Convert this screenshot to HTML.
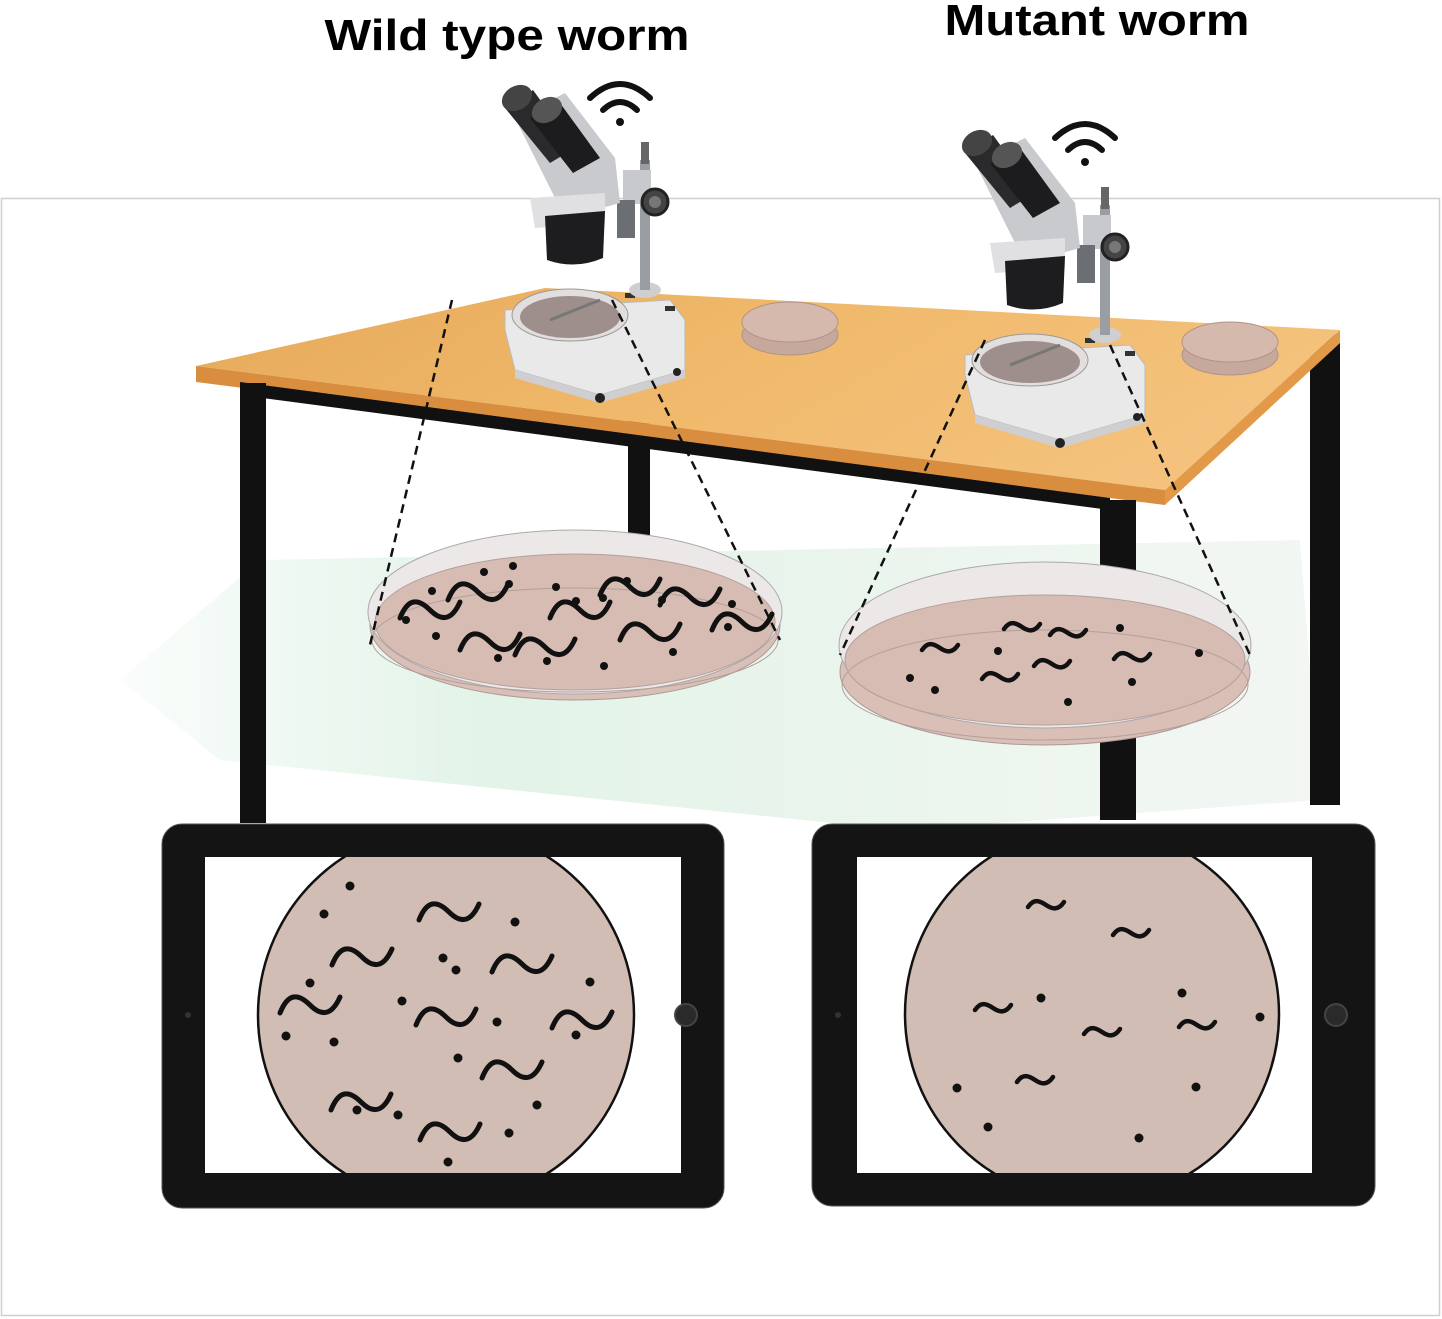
<!DOCTYPE html>
<html><head><meta charset="utf-8"><style>html,body{margin:0;padding:0;background:#fff}svg{display:block}</style></head>
<body>
<svg width="1442" height="1319" viewBox="0 0 1442 1319" xmlns="http://www.w3.org/2000/svg" font-family="Liberation Sans, sans-serif">
<defs>
<linearGradient id="shadow" x1="0" y1="0" x2="1" y2="0">
<stop offset="0" stop-color="#d9efe4" stop-opacity="0.2"/>
<stop offset="0.3" stop-color="#d6eedd"/>
<stop offset="1" stop-color="#eef3ee"/>
</linearGradient>
<linearGradient id="wood" x1="0" y1="0" x2="1" y2="0.3">
<stop offset="0" stop-color="#e6a95a"/>
<stop offset="0.5" stop-color="#f0b86a"/>
<stop offset="1" stop-color="#f4c27c"/>
</linearGradient>
<path id="w" d="M-30,10 C-22,-10 -12,-10 0,2 C12,14 22,12 30,-6" fill="none" stroke="#111" stroke-width="5" stroke-linecap="round"/>
<path id="m" d="M-18,2 C-12,-7 -6,-4 0,0 C6,4 12,6 18,-3" fill="none" stroke="#111" stroke-width="4.5" stroke-linecap="round"/>
<g id="mic">
<path d="M0,40 L165,30 L180,50 L180,100 L95,125 L10,100 L0,60 Z" fill="#e9e9ea" stroke="#bbb"/>
<path d="M10,100 L95,125 L180,100 L180,108 L95,133 L10,108 Z" fill="#cfcfd2"/>
<ellipse cx="65" cy="45" rx="58" ry="26" fill="#e3dede" stroke="#999"/>
<ellipse cx="65" cy="47" rx="50" ry="21" fill="#9e8f8c"/>
<line x1="45" y1="50" x2="95" y2="30" stroke="#777" stroke-width="3"/>
<circle cx="95" cy="128" r="5" fill="#222"/>
<circle cx="172" cy="102" r="4" fill="#222"/>
<rect x="120" y="23" width="10" height="5" fill="#333"/>
<rect x="160" y="36" width="10" height="5" fill="#333"/>
<ellipse cx="140" cy="20" rx="16" ry="8" fill="#cfcfd2"/>
<rect x="135" y="-110" width="10" height="130" fill="#9a9ea3"/>
<rect x="136" y="-128" width="8" height="22" fill="#666"/>
<rect x="118" y="-100" width="28" height="34" fill="#c8c9cc"/>
<rect x="112" y="-70" width="18" height="38" fill="#6b6e72"/>
<circle cx="150" cy="-68" r="13" fill="#444" stroke="#222" stroke-width="3"/>
<circle cx="150" cy="-68" r="6" fill="#777"/>
<g transform="translate(0,38)">
<path d="M10,-190 L60,-215 L110,-150 L115,-105 L60,-90 L35,-140 Z" fill="#c9cacd"/>
<path d="M25,-110 L100,-115 L100,-85 L30,-80 Z" fill="#e0e0e2"/>
<path d="M40,-92 L100,-97 L98,-50 Q70,-38 42,-48 Z" fill="#1d1d1f"/>
<path d="M0,-200 L28,-218 L70,-160 L45,-145 Z" fill="#2a2a2c"/>
<path d="M25,-190 L55,-205 L95,-150 L68,-135 Z" fill="#1c1c1e"/>
<ellipse cx="12" cy="-210" rx="16" ry="12" transform="rotate(-30 12 -210)" fill="#444"/>
<ellipse cx="42" cy="-198" rx="16" ry="12" transform="rotate(-30 42 -198)" fill="#555"/>
</g>
</g>
<g id="wifi" fill="none" stroke="#111" stroke-width="6" stroke-linecap="round">
<path d="M-30,-10 Q0,-38 30,-10"/>
<path d="M-17,2 Q0,-14 17,2"/>
<circle cx="0" cy="14" r="4" fill="#111" stroke="none"/>
</g>
<clipPath id="s1"><rect x="205" y="857" width="476" height="316"/></clipPath>
<clipPath id="s2"><rect x="857" y="857" width="455" height="316"/></clipPath>
</defs>

<rect x="1.5" y="198.5" width="1438" height="1117" fill="none" stroke="#cfcfcf" stroke-width="1.5"/>

<text x="507" y="50" text-anchor="middle" font-weight="bold" font-size="44" textLength="365" lengthAdjust="spacingAndGlyphs" fill="#000">Wild type worm</text>
<text x="1097" y="35" text-anchor="middle" font-weight="bold" font-size="44" textLength="305" lengthAdjust="spacingAndGlyphs" fill="#000">Mutant worm</text>

<path d="M120,680 L260,560 L1300,540 L1320,800 L900,830 L220,760 Z" fill="url(#shadow)" opacity="0.7"/>

<rect x="628" y="395" width="22" height="140" fill="#111"/>
<rect x="1310" y="335" width="30" height="470" fill="#111"/>
<path d="M196,366 L545,288 L1340,330 L1165,490 Z" fill="url(#wood)"/>
<path d="M196,366 L1165,490 L1165,505 L196,382 Z" fill="#d88e3e"/>
<path d="M1165,490 L1340,330 L1340,343 L1165,505 Z" fill="#e39a48"/>
<path d="M240,382 L1110,498 L1110,510 L240,395 Z" fill="#111"/>
<rect x="240" y="383" width="26" height="440" fill="#111"/>
<rect x="1100" y="500" width="36" height="320" fill="#111"/>

<g>
<ellipse cx="790" cy="335" rx="48" ry="20" fill="#c6a89c" stroke="#b09488"/>
<ellipse cx="790" cy="322" rx="48" ry="20" fill="#d6b9ad" stroke="#b09488"/>
<ellipse cx="1230" cy="355" rx="48" ry="20" fill="#c6a89c" stroke="#b09488"/>
<ellipse cx="1230" cy="342" rx="48" ry="20" fill="#d6b9ad" stroke="#b09488"/>
</g>

<use href="#mic" x="505" y="270"/>
<use href="#mic" x="965" y="315"/>
<use href="#wifi" x="620" y="108"/>
<use href="#wifi" x="1085" y="148"/>

<ellipse cx="575" cy="625" rx="205" ry="75" fill="#d9bfb6" stroke="#a99"/>
<ellipse cx="575" cy="612" rx="207" ry="82" fill="#ece8e8" stroke="#aaa"/>
<ellipse cx="575" cy="622" rx="200" ry="68" fill="#d6bcb3" stroke="#b3a09a"/>
<ellipse cx="575" cy="640" rx="203" ry="52" fill="none" stroke="#b3a09a"/>
<g>
<use href="#w" x="430" y="608"/><use href="#w" x="478" y="590"/><use href="#w" x="630" y="585"/>
<use href="#w" x="580" y="608"/><use href="#w" x="690" y="595"/><use href="#w" x="742" y="620"/>
<use href="#w" x="490" y="640"/><use href="#w" x="545" y="645"/><use href="#w" x="650" y="630"/>
</g>
<g fill="#111">
<circle cx="406" cy="620" r="4"/><circle cx="432" cy="591" r="4"/><circle cx="484" cy="572" r="4"/><circle cx="513" cy="566" r="4"/>
<circle cx="509" cy="584" r="4"/><circle cx="556" cy="587" r="4"/><circle cx="576" cy="601" r="4"/><circle cx="603" cy="598" r="4"/>
<circle cx="627" cy="581" r="4"/><circle cx="662" cy="600" r="4"/><circle cx="732" cy="604" r="4"/><circle cx="728" cy="627" r="4"/>
<circle cx="436" cy="636" r="4"/><circle cx="498" cy="658" r="4"/><circle cx="547" cy="661" r="4"/><circle cx="604" cy="666" r="4"/><circle cx="673" cy="652" r="4"/>
</g>
<line x1="452" y1="300" x2="370" y2="645" stroke="#111" stroke-width="2.5" stroke-dasharray="9,6"/>
<line x1="612" y1="300" x2="780" y2="640" stroke="#111" stroke-width="2.5" stroke-dasharray="9,6"/>

<ellipse cx="1045" cy="672" rx="205" ry="73" fill="#d9bfb6" stroke="#a99"/>
<ellipse cx="1045" cy="645" rx="206" ry="83" fill="#ece8e8" stroke="#aaa"/>
<ellipse cx="1045" cy="660" rx="200" ry="65" fill="#d6bcb3" stroke="#b3a09a"/>
<ellipse cx="1045" cy="685" rx="203" ry="55" fill="none" stroke="#b3a09a"/>
<g>
<use href="#m" x="940" y="648"/><use href="#m" x="1022" y="627"/><use href="#m" x="1068" y="633"/>
<use href="#m" x="1000" y="677"/><use href="#m" x="1052" y="664"/><use href="#m" x="1132" y="657"/>
</g>
<g fill="#111">
<circle cx="998" cy="651" r="4"/><circle cx="1120" cy="628" r="4"/><circle cx="1199" cy="653" r="4"/><circle cx="910" cy="678" r="4"/>
<circle cx="935" cy="690" r="4"/><circle cx="1132" cy="682" r="4"/><circle cx="1068" cy="702" r="4"/>
</g>
<line x1="985" y1="340" x2="840" y2="655" stroke="#111" stroke-width="2.5" stroke-dasharray="9,6"/>
<line x1="1110" y1="345" x2="1250" y2="655" stroke="#111" stroke-width="2.5" stroke-dasharray="9,6"/>

<rect x="162" y="824" width="562" height="384" rx="20" fill="#141414" stroke="#555"/>
<rect x="205" y="857" width="476" height="316" fill="#fff"/>
<circle cx="188" cy="1015" r="3" fill="#333"/>
<circle cx="686" cy="1015" r="11" fill="#2a2a2a" stroke="#444" stroke-width="2"/>
<g clip-path="url(#s1)">
<circle cx="446" cy="1015" r="188" fill="#d2bdb5" stroke="#111" stroke-width="2.5"/>
</g>
<g>
<use href="#w" x="449" y="910"/><use href="#w" x="362" y="955"/><use href="#w" x="522" y="962"/>
<use href="#w" x="310" y="1003"/><use href="#w" x="446" y="1015"/><use href="#w" x="582" y="1018"/>
<use href="#w" x="512" y="1068"/><use href="#w" x="361" y="1100"/><use href="#w" x="450" y="1130"/>
</g>
<g fill="#111">
<circle cx="350" cy="886" r="4.5"/><circle cx="324" cy="914" r="4.5"/><circle cx="515" cy="922" r="4.5"/><circle cx="443" cy="958" r="4.5"/>
<circle cx="310" cy="983" r="4.5"/><circle cx="456" cy="970" r="4.5"/><circle cx="590" cy="982" r="4.5"/><circle cx="402" cy="1001" r="4.5"/>
<circle cx="497" cy="1022" r="4.5"/><circle cx="286" cy="1036" r="4.5"/><circle cx="334" cy="1042" r="4.5"/><circle cx="458" cy="1058" r="4.5"/>
<circle cx="576" cy="1035" r="4.5"/><circle cx="537" cy="1105" r="4.5"/><circle cx="398" cy="1115" r="4.5"/><circle cx="357" cy="1110" r="4.5"/>
<circle cx="509" cy="1133" r="4.5"/><circle cx="448" cy="1162" r="4.5"/>
</g>

<rect x="812" y="824" width="563" height="382" rx="20" fill="#141414" stroke="#555"/>
<rect x="857" y="857" width="455" height="316" fill="#fff"/>
<circle cx="838" cy="1015" r="3" fill="#333"/>
<circle cx="1336" cy="1015" r="11" fill="#2a2a2a" stroke="#444" stroke-width="2"/>
<g clip-path="url(#s2)">
<circle cx="1092" cy="1014" r="187" fill="#d2bdb5" stroke="#111" stroke-width="2.5"/>
</g>
<g>
<use href="#m" x="1046" y="905"/><use href="#m" x="1131" y="933"/><use href="#m" x="993" y="1008"/>
<use href="#m" x="1102" y="1032"/><use href="#m" x="1197" y="1025"/><use href="#m" x="1035" y="1080"/>
</g>
<g fill="#111">
<circle cx="1041" cy="998" r="4.5"/><circle cx="1182" cy="993" r="4.5"/><circle cx="1260" cy="1017" r="4.5"/><circle cx="957" cy="1088" r="4.5"/>
<circle cx="1196" cy="1087" r="4.5"/><circle cx="988" cy="1127" r="4.5"/><circle cx="1139" cy="1138" r="4.5"/>
</g>
</svg>
</body></html>
